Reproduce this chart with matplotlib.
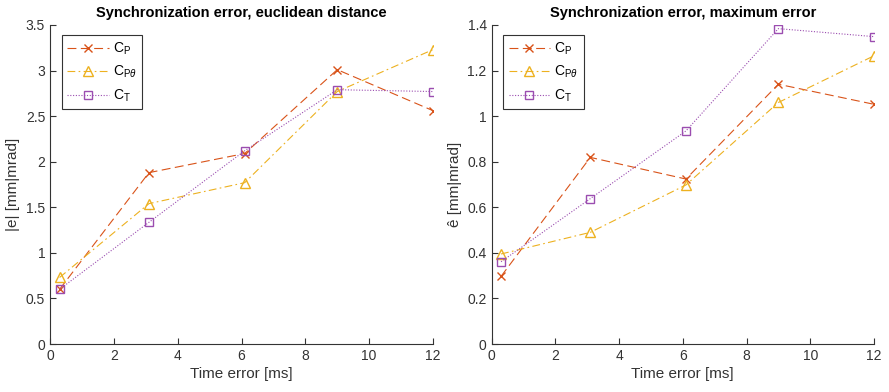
import matplotlib
matplotlib.use("Agg")
import matplotlib.pyplot as plt

plt.rcParams['font.family'] = ['Liberation Sans', 'DejaVu Sans']
plt.rcParams['mathtext.fontset'] = 'custom'
plt.rcParams['mathtext.rm'] = 'Liberation Sans'
plt.rcParams['mathtext.it'] = 'Liberation Sans:italic'

# time error [ms]
time_err = [0.3, 3.1, 6.1, 9.0, 12.0]

# euclidean distance |e|
eucl_cp = [0.60, 1.88, 2.09, 3.01, 2.56]
eucl_cpt = [0.73, 1.54, 1.77, 2.77, 3.23]
eucl_ct = [0.60, 1.335, 2.12, 2.79, 2.77]

# maximum error
max_cp = [0.297, 0.819, 0.724, 1.14, 1.052]
max_cpt = [0.395, 0.49, 0.698, 1.06, 1.265]
max_ct = [0.361, 0.638, 0.935, 1.384, 1.349]

labels = [r'C$_\mathregular{P}$', r'C$_{\mathregular{P}\theta}$', r'C$_\mathregular{T}$']
colors = ['#D95319', '#EDB120', '#9B4DB0']
gray = '#333333'

fig = plt.figure(figsize=(8.89, 3.92), dpi=100)
ax1 = fig.add_axes([50/889, 48/392, 383/889, 319/392])
ax2 = fig.add_axes([491.5/889, 48/392, 382.5/889, 319/392])


def draw(ax, cp, cpt, ct, ylim, yticks, yticklabels, ylabel, title):
    ax.plot(time_err, cp, linestyle=(0, (8, 4)), color=colors[0], marker='x',
            markersize=6, linewidth=0.8, label=labels[0])
    ax.plot(time_err, cpt, linestyle=(0, (7, 3, 1.5, 3)), color=colors[1], marker='^',
            markersize=7, markerfacecolor='none', linewidth=0.8, label=labels[1])
    ax.plot(time_err, ct, linestyle=(0, (1, 1.5)), color=colors[2], marker='s',
            markersize=5.5, markerfacecolor='none', linewidth=0.8, label=labels[2])
    ax.set_xlim(0, 12)
    ax.set_ylim(*ylim)
    ax.set_xticks([0, 2, 4, 6, 8, 10, 12])
    ax.set_yticks(yticks)
    ax.set_yticklabels(yticklabels)
    for s in ['top', 'right']:
        ax.spines[s].set_visible(False)
    for s in ['left', 'bottom']:
        ax.spines[s].set_color(gray)
        ax.spines[s].set_linewidth(0.8)
    ax.tick_params(direction='in', length=4, width=0.8, colors=gray, labelsize=10)
    ax.set_xlabel('Time error [ms]', fontsize=11, color=gray, labelpad=3)
    ax.set_ylabel(ylabel, fontsize=11, color=gray, labelpad=4)
    ax.set_title(title, fontsize=10.5, fontweight='bold', pad=6)
    leg = ax.legend(loc='upper left', bbox_to_anchor=(0.012, 0.99), fontsize=10,
                    fancybox=False, framealpha=1, edgecolor=gray, handlelength=3.0,
                    borderpad=0.4, labelspacing=0.5, handletextpad=0.3)
    leg.get_frame().set_linewidth(0.8)


draw(ax1, eucl_cp, eucl_cpt, eucl_ct, (0, 3.5),
     [0, 0.5, 1, 1.5, 2, 2.5, 3, 3.5],
     ['0', '0.5', '1', '1.5', '2', '2.5', '3', '3.5'],
     '|e| [mm|mrad]', 'Synchronization error, euclidean distance')
draw(ax2, max_cp, max_cpt, max_ct, (0, 1.4),
     [0, 0.2, 0.4, 0.6, 0.8, 1.0, 1.2, 1.4],
     ['0', '0.2', '0.4', '0.6', '0.8', '1', '1.2', '1.4'],
     'ê [mm|mrad]', 'Synchronization error, maximum error')

fig.savefig('out.png', dpi=100)
